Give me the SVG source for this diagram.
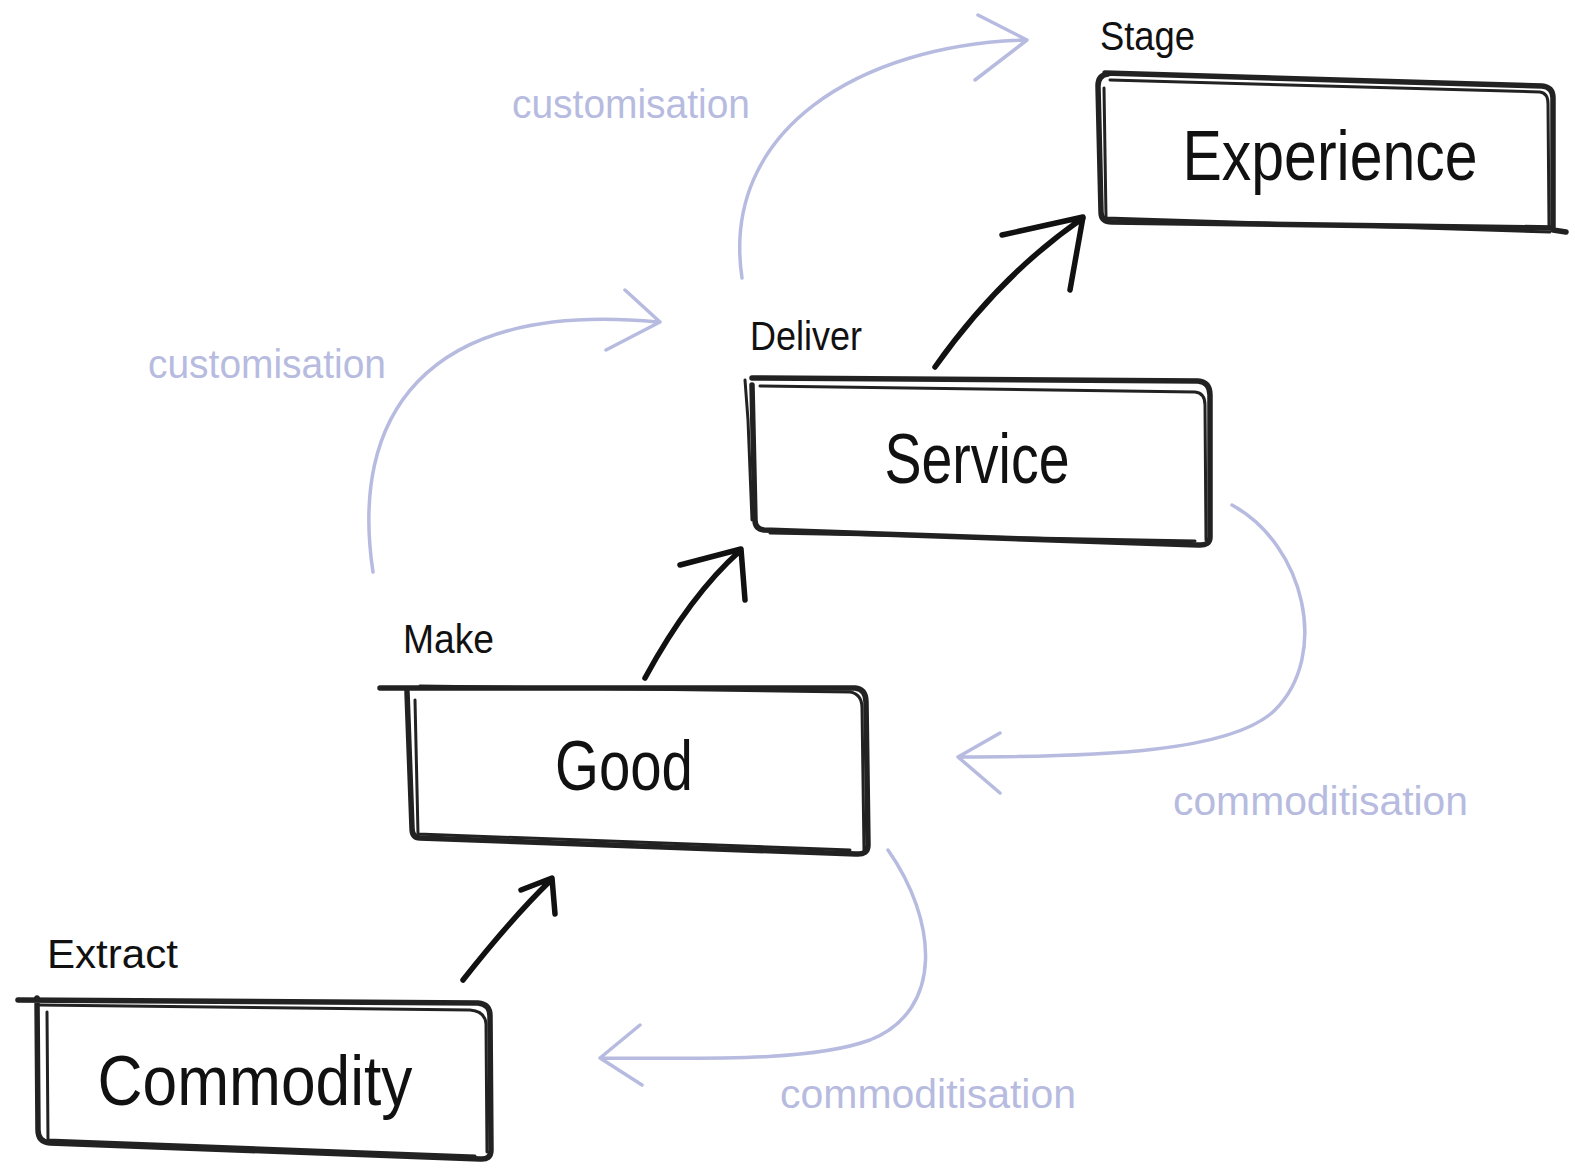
<svg xmlns="http://www.w3.org/2000/svg" width="1575" height="1171" viewBox="0 0 1575 1171">
<style>
.box{fill:none;stroke:#222;stroke-width:5.5;stroke-linecap:round;stroke-linejoin:round}
.box2{fill:none;stroke:#222;stroke-width:3;stroke-linecap:round;stroke-linejoin:round}
.big{font-family:"Liberation Sans","DejaVu Sans",sans-serif;font-size:70px;fill:#111}
.small{font-family:"Liberation Sans","DejaVu Sans",sans-serif;font-size:40px;fill:#111}
.soft{font-family:"Liberation Sans","DejaVu Sans",sans-serif;font-size:40px;fill:#b7bbe0}
.arr{fill:none;stroke:#111;stroke-width:5.5;stroke-linecap:round;stroke-linejoin:round}
.lite{fill:none;stroke:#b7bbe0;stroke-width:3.5;stroke-linecap:round;stroke-linejoin:round}
</style>
<rect width="1575" height="1171" fill="#fff"/>
<g id="commodity">
<path class="box" d="M18,1000 L478,1003 Q490,1004 490,1016 L491,1150 Q491,1160 480,1159 L50,1143 Q38,1142 38,1130 L37,998"/>
<path class="box2" d="M40,1005 L470,1010 Q485,1011 486,1024 L487,1152 M47,1012 L48,1140 L475,1156"/>
<text class="big" x="255" y="1105" text-anchor="middle" textLength="315" lengthAdjust="spacingAndGlyphs">Commodity</text>
<text class="small" x="47" y="968" textLength="131" lengthAdjust="spacingAndGlyphs">Extract</text>
</g>
<g id="good">
<path class="box" d="M380,688 L855,688 Q866,689 866,702 L868,845 Q868,855 856,854 L420,838 Q412,838 412,828 L407,692"/>
<path class="box2" d="M420,686 L850,692 Q862,694 862,708 L864,850 M415,700 L418,834 L850,850"/>
<text class="big" x="624" y="790" text-anchor="middle" textLength="138" lengthAdjust="spacingAndGlyphs">Good</text>
<text class="small" x="403" y="653" textLength="91" lengthAdjust="spacingAndGlyphs">Make</text>
</g>
<g id="service">
<path class="box" d="M752,378 L1198,381 Q1210,382 1210,395 L1210,537 Q1210,546 1198,545 L764,530 Q755,529 755,520 L752,385"/>
<path class="box2" d="M745,380 L748,420 L752,520 M760,386 L1195,392 Q1205,393 1205,405 L1206,540 M770,533 L1195,541"/>
<text class="big" x="977" y="483" text-anchor="middle" textLength="185" lengthAdjust="spacingAndGlyphs">Service</text>
<text class="small" x="750" y="350" textLength="112" lengthAdjust="spacingAndGlyphs">Deliver</text>
</g>
<g id="experience">
<path class="box" d="M1105,73 L1542,86 Q1553,87 1553,98 L1553,230 L1566,232 M1553,228 L1112,222 Q1101,222 1101,212 L1098,86 Q1098,75 1108,74"/>
<path class="box2" d="M1110,80 L1540,92 Q1548,93 1548,104 L1549,226 M1104,88 L1106,218 L1550,232"/>
<text class="big" x="1330" y="180" text-anchor="middle" textLength="295" lengthAdjust="spacingAndGlyphs">Experience</text>
<text class="small" x="1100" y="50" textLength="95" lengthAdjust="spacingAndGlyphs">Stage</text>
</g>
<g id="connectors">
<path class="arr" d="M463,980 Q510,920 551,880 M521,890 L552,878 L555,914"/>
<path class="arr" d="M645,678 Q690,595 741,550 M680,565 L741,549 L745,600"/>
<path class="arr" d="M935,367 Q1000,275 1083,218 M1002,235 L1083,217 L1070,290"/>
<path class="lite" d="M742,278 C720,130 860,45 1025,40 M978,15 L1027,40 L975,80"/>
<path class="lite" d="M373,572 C350,420 420,300 658,322 M625,290 L660,322 L606,350"/>
<path class="lite" d="M1232,505 C1305,545 1330,655 1275,710 C1232,752 1100,757 958,757 M1000,733 L958,757 L1000,793"/>
<path class="lite" d="M888,850 C937,920 945,1010 870,1040 C810,1062 700,1058 600,1058 M640,1025 L600,1058 L642,1085"/>
</g>
<text class="soft" x="512" y="118" textLength="238" lengthAdjust="spacingAndGlyphs">customisation</text>
<text class="soft" x="148" y="378" textLength="238" lengthAdjust="spacingAndGlyphs">customisation</text>
<text class="soft" x="1173" y="815" textLength="295" lengthAdjust="spacingAndGlyphs">commoditisation</text>
<text class="soft" x="780" y="1108" textLength="296" lengthAdjust="spacingAndGlyphs">commoditisation</text>
</svg>
